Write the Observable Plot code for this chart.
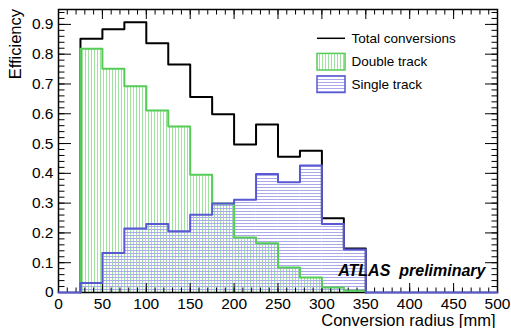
<!DOCTYPE html>
<html><head><meta charset="utf-8">
<script src="https://cdn.jsdelivr.net/npm/d3@7"></script>
<script src="https://cdn.jsdelivr.net/npm/@observablehq/plot@0.6"></script>
<style>html,body{margin:0;padding:0;background:#fff;} #chart{width:511px;height:328px;}</style>
</head><body><div id="chart"></div>
<script>
// ---- data ----
const binEdges  = [25, 50, 75, 100, 125, 150, 175, 200, 225, 250, 275, 300, 325, 350];
const totalEff  = [0.852, 0.884, 0.907, 0.837, 0.765, 0.656, 0.598, 0.497, 0.564, 0.456, 0.476, 0.249, 0.148];
const doubleEff = [0.818, 0.751, 0.692, 0.611, 0.557, 0.395, 0.299, 0.185, 0.165, 0.084, 0.050, 0.017, 0.006];
const singleEff = [0.032, 0.133, 0.215, 0.230, 0.206, 0.261, 0.299, 0.311, 0.398, 0.370, 0.426, 0.230, 0.144];
const xMajorTicks = [0, 50, 100, 150, 200, 250, 300, 350, 400, 450, 500];
const xTickLabels = ["0", "50", "100", "150", "200", "250", "300", "350", "400", "450", "500"];
const yMajorTicks = [0, 0.1, 0.2, 0.3, 0.4, 0.5, 0.6, 0.7, 0.8, 0.9];
const yTickLabels = ["0", "0.1", "0.2", "0.3", "0.4", "0.5", "0.6", "0.7", "0.8", "0.9"];
const xMinorTicks = d3.range(0, 501, 10);
const yMinorTicks = d3.range(0, 0.951, 0.02);
const legendLabels = ["Total conversions", "Double track", "Single track"];
const xTitle = "Conversion radius [mm]";
const yTitle = "Efficiency";
const watermark = "ATLAS  preliminary";

// ---- styles ----
const FONT = "'Liberation Sans', Arial, Helvetica, sans-serif";
const GREEN = "#55cc55", GREEN_H = "#9fe29f";
const BLUE = "#5858d2", BLUE_H = "#a9a9ec";

const bins = totalEff.map((t, i) => ({lo: binEdges[i], hi: binEdges[i + 1], total: t, dbl: doubleEff[i], sgl: singleEff[i]}));
function stepPoints(vals, xStart, xEnd) {
  const pts = [];
  pts.push({x: xStart, y: 0});
  vals.forEach((v, i) => pts.push({x: binEdges[i], y: v}));
  pts.push({x: binEdges[binEdges.length - 1], y: 0});
  if (xEnd != null) pts.push({x: xEnd, y: 0});
  return pts;
}
const totalLine = stepPoints(totalEff, binEdges[0], null);
const doubleLine = stepPoints(doubleEff, binEdges[0], null);
const singleLine = stepPoints(singleEff, 0, 500);

const yFmt = d => yTickLabels[yMajorTicks.indexOf(d)];
const xFmt = d => xTickLabels[xMajorTicks.indexOf(d)];
const blank = () => "";

const svg = Plot.plot({
  width: 511, height: 328,
  marginLeft: 58, marginRight: 14, marginTop: 9, marginBottom: 36,
  style: {fontFamily: FONT, color: "black", background: "white", overflow: "visible"},
  x: {domain: [0, 500]},
  y: {domain: [0, 0.95]},
  marks: [
    Plot.rectY(bins, {x1: "lo", x2: "hi", y: "dbl", fill: "url(#hatchV)"}),
    Plot.rectY(bins, {x1: "lo", x2: "hi", y: "sgl", fill: "url(#hatchH)"}),
    Plot.frame({stroke: "black", strokeWidth: 1.5}),
    // ticks (inward)
    Plot.axisX(xMajorTicks, {anchor: "bottom", tickSize: -9, tickFormat: blank, label: null}),
    Plot.axisX(xMinorTicks, {anchor: "bottom", tickSize: -4.5, tickFormat: blank, label: null}),
    Plot.axisX(xMajorTicks, {anchor: "top", tickSize: -9, tickFormat: blank, label: null}),
    Plot.axisX(xMinorTicks, {anchor: "top", tickSize: -4.5, tickFormat: blank, label: null}),
    Plot.axisY(yMajorTicks, {anchor: "left", tickSize: -13, tickFormat: blank, label: null}),
    Plot.axisY(yMinorTicks, {anchor: "left", tickSize: -6.5, tickFormat: blank, label: null}),
    Plot.axisY(yMajorTicks, {anchor: "right", tickSize: -13, tickFormat: blank, label: null}),
    Plot.axisY(yMinorTicks, {anchor: "right", tickSize: -6.5, tickFormat: blank, label: null}),
    // tick labels
    Plot.axisX(xMajorTicks, {anchor: "bottom", tickSize: 0, tickPadding: 5, tickFormat: xFmt, label: null, fontSize: 15.5}),
    Plot.axisY(yMajorTicks, {anchor: "left", tickSize: 0, tickPadding: 5, tickFormat: yFmt, label: null, fontSize: 15.5}),
    // outlines (ROOT draw order: total, double, single)
    Plot.line(totalLine, {x: "x", y: "y", curve: "step-after", stroke: "black", strokeWidth: 2}),
    Plot.line(doubleLine, {x: "x", y: "y", curve: "step-after", stroke: GREEN, strokeWidth: 2}),
    Plot.line(singleLine, {x: "x", y: "y", curve: "step-after", stroke: BLUE, strokeWidth: 2}),
    // titles
    Plot.text([xTitle], {text: d => d, frameAnchor: "bottom-right", textAnchor: "end", lineAnchor: "bottom", dx: -2, dy: 33, fontSize: 16.5, fill: "black"}),
    Plot.text([yTitle], {text: d => d, frameAnchor: "top-left", textAnchor: "end", lineAnchor: "bottom", rotate: -90, dx: -38, dy: -0.5, fontSize: 16.5, fill: "black"}),
    Plot.text([watermark], {text: d => d, frameAnchor: "bottom-right", textAnchor: "end", lineAnchor: "bottom", dx: -12, dy: -17, fontSize: 16, fontWeight: "bold", fontStyle: "italic", fill: "black"})
  ]
});

const s = d3.select(svg);
const defs = s.insert("defs", ":first-child");
const pv = defs.append("pattern").attr("id", "hatchV").attr("patternUnits", "userSpaceOnUse").attr("width", 3).attr("height", 3);
pv.append("rect").attr("x", 1).attr("y", 0).attr("width", 1).attr("height", 3).attr("fill", GREEN_H).attr("shape-rendering", "crispEdges");
const ph = defs.append("pattern").attr("id", "hatchH").attr("patternUnits", "userSpaceOnUse").attr("width", 3).attr("height", 3);
ph.append("rect").attr("x", 0).attr("y", 1).attr("width", 3).attr("height", 1).attr("fill", BLUE_H).attr("shape-rendering", "crispEdges");

// legend
const lg = s.append("g").attr("font-family", FONT).attr("font-size", 13.5).attr("fill", "black").attr("text-anchor", "start");
const lx = 317, lw = 28, tx = 351.5, rows = [38.3, 61.7, 84.2];
lg.append("line").attr("x1", lx).attr("x2", lx + lw).attr("y1", rows[0]).attr("y2", rows[0]).attr("stroke", "black").attr("stroke-width", 1.5);
lg.append("rect").attr("x", lx).attr("y", rows[1] - 8.3).attr("width", lw).attr("height", 16.6).attr("fill", "url(#hatchV)").attr("stroke", GREEN).attr("stroke-width", 1.5);
lg.append("rect").attr("x", lx).attr("y", rows[2] - 8.3).attr("width", lw).attr("height", 16.6).attr("fill", "url(#hatchH)").attr("stroke", BLUE).attr("stroke-width", 1.5);
legendLabels.forEach((t, i) => lg.append("text").attr("x", tx).attr("y", rows[i]).attr("dy", "0.35em").attr("text-anchor", "start").text(t));

document.getElementById("chart").appendChild(svg);
</script>
</body></html>
